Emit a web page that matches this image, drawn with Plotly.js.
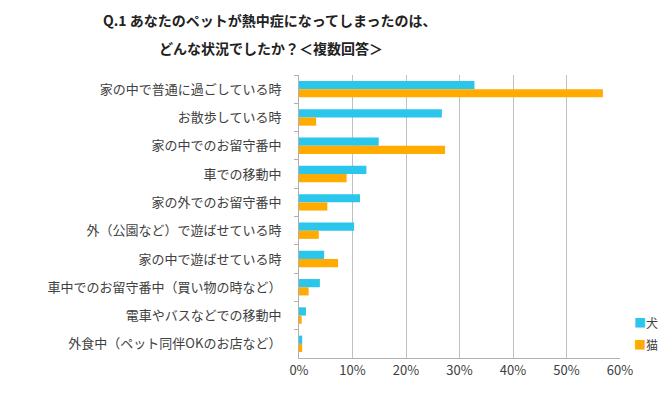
<!DOCTYPE html>
<html><head><meta charset="utf-8">
<script src="https://cdn.plot.ly/plotly-3.0.1.min.js"></script>
<style>html,body{margin:0;padding:0;background:#fff;}</style>
</head><body>
<div id="chart" style="width:668px;height:395px;"></div>
<script>
const categories = [
  "家の中で普通に過ごしている時",
  "お散歩している時",
  "家の中でのお留守番中",
  "車での移動中",
  "家の外でのお留守番中",
  "外（公園など）で遊ばせている時",
  "家の中で遊ばせている時",
  "車中でのお留守番中（買い物の時など）",
  "電車やバスなどでの移動中",
  "外食中（ペット同伴OKのお店など）"
];
const dogValues = [32.8, 26.7, 14.9, 12.6, 11.4, 10.3, 4.7, 3.9, 1.3, 0.6];
const catValues = [56.8, 3.2, 27.3, 8.9, 5.3, 3.7, 7.3, 1.8, 0.5, 0.6];
const seriesNames = ["犬", "猫"];
const seriesColors = ["#2ac6ec", "#ffab00"];
const titleLines = ["Q.1 あなたのペットが熱中症になってしまったのは、", "どんな状況でしたか？＜複数回答＞"];
const tickVals = [0, 10, 20, 30, 40, 50, 60];
const tickText = ["0%", "10%", "20%", "30%", "40%", "50%", "60%"];

const font = "Noto Sans CJK JP, sans-serif";
const data = [
  {type:'bar', orientation:'h', name:seriesNames[0], y:categories, x:dogValues,
   marker:{color:seriesColors[0]}},
  {type:'bar', orientation:'h', name:seriesNames[1], y:categories, x:catValues,
   marker:{color:seriesColors[1]}}
];
const annotations = [
  {text:'<b>'+titleLines[0]+'</b>', xref:'paper', yref:'paper', x:(270-299)/321, y:1+(75-20)/283,
   xanchor:'center', yanchor:'middle', showarrow:false, font:{family:font, size:14, color:'#222'}},
  {text:'<b>'+titleLines[1]+'</b>', xref:'paper', yref:'paper', x:(271-299)/321, y:1+(75-48)/283,
   xanchor:'center', yanchor:'middle', showarrow:false, font:{family:font, size:14, color:'#222'}}
];
const legendY = [322, 344];
seriesNames.forEach((n, i) => {
  annotations.push({
    text:'<span style="color:' + seriesColors[i] + '">■</span>' + n,
    xref:'paper', yref:'paper', x:(632-299)/321, y:(358-legendY[i])/283,
    xanchor:'left', yanchor:'middle', showarrow:false,
    font:{family:font, size:12, color:'#404040'}
  });
});
const layout = {
  width:668, height:395,
  margin:{l:299, r:48, t:75, b:37, autoexpand:false},
  paper_bgcolor:'#fff', plot_bgcolor:'#fff',
  barmode:'group', bargap:0.42, bargroupgap:0,
  annotations:annotations,
  xaxis:{range:[0,60], tickvals:tickVals, ticktext:tickText, showgrid:true,
    gridcolor:'#c0c0c0', gridwidth:1, zeroline:false, showline:true, linecolor:'#b0b0b0',
    ticks:'', tickfont:{family:font, size:13, color:'#404040'}, fixedrange:true},
  yaxis:{autorange:'reversed', showline:true, linecolor:'#b0b0b0', ticks:'outside',
    ticklen:4, tickcolor:'#b0b0b0', tickson:'boundaries',
    tickfont:{family:font, size:13, color:'#404040'}, ticklabelstandoff:14},
  showlegend:false
};
Plotly.newPlot('chart', data, layout, {displayModeBar:false, staticPlot:true});
</script>
</body></html>
